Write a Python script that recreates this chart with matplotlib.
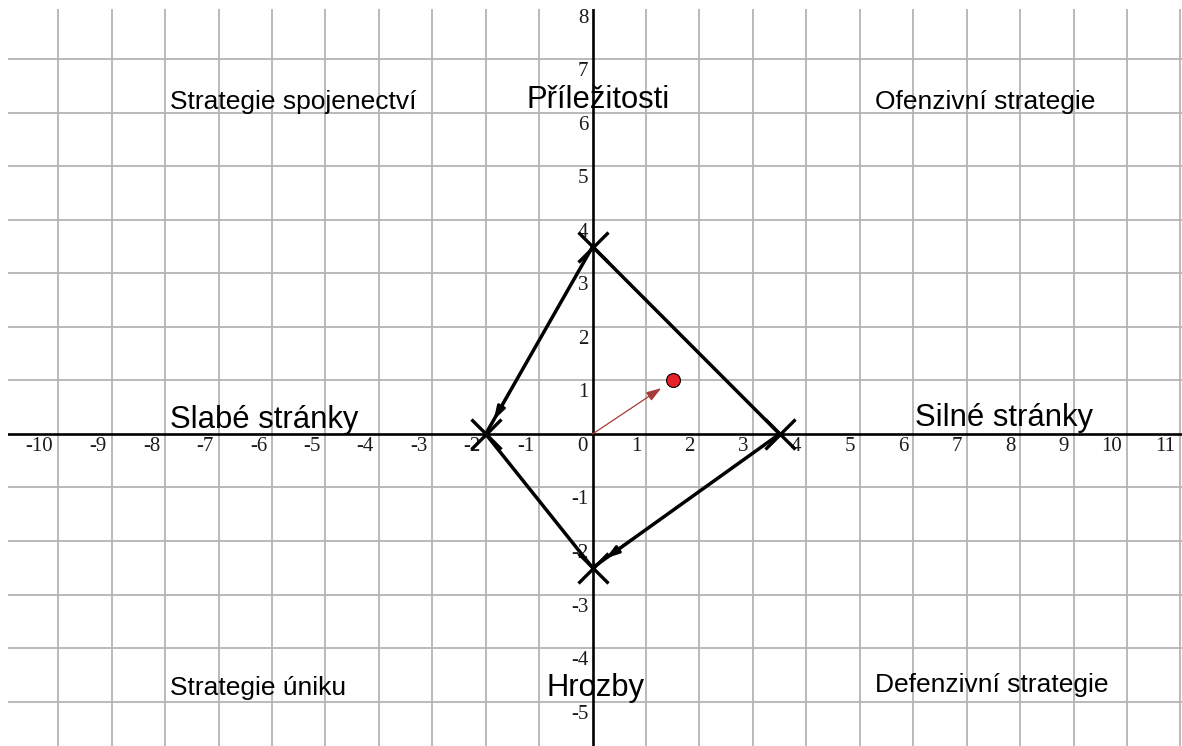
import numpy as np
import matplotlib.pyplot as plt

# Data
x_ticks = list(range(-10, 12))
y_ticks = [v for v in range(-5, 9) if v != 0]

vertex_x = [0, 3.5, 0, -2]
vertex_y = [3.5, 0, -2.5, 0]

point_x = [1.5]
point_y = [1.0]

quadrant_labels = ["Strategie spojenectví", "Ofenzivní strategie",
                   "Strategie úniku", "Defenzivní strategie"]
axis_labels = ["Příležitosti", "Slabé stránky", "Silné stránky", "Hrozby"]

W, H = 1182, 746
fig = plt.figure(figsize=(W / 100, H / 100), dpi=100)
ax = fig.add_axes([8 / W, 0, (W - 8) / W, 737 / H])
ax.set_xlim(-10.94, 11.03)
ax.set_ylim(-5.83, 7.94)
ax.axis("off")

# grid
for v in x_ticks:
    if v != 0:
        ax.axvline(v, color="#b4b4b4", lw=1.3, zorder=1)
for v in range(-5, 8):
    if v != 0:
        ax.axhline(v, color="#b4b4b4", lw=1.3, zorder=1)

# main axes
ax.axhline(0, color="black", lw=1.9, zorder=2)
ax.axvline(0, color="black", lw=1.9, zorder=2)

# tick labels (serif, below-left of each grid crossing)
tick_font = dict(family="Liberation Serif", fontsize=15, color="#1a1a1a",
                 ha="right", va="center", zorder=3, annotation_clip=False)
for v in x_ticks:
    ax.annotate(str(v), (v, 0), xytext=(-3.5, -9),
                textcoords="offset points", **tick_font)
for v in y_ticks:
    ax.annotate(str(v), (0, v), xytext=(-3, -9),
                textcoords="offset points", **tick_font)

# quadrilateral with X markers
px = vertex_x + [vertex_x[0]]
py = vertex_y + [vertex_y[0]]
ax.plot(px, py, color="black", lw=2.5, zorder=4, solid_capstyle="round")
ax.plot(vertex_x, vertex_y, linestyle="none", marker="x", color="black",
        markersize=21, markeredgewidth=2.4, zorder=5)

# arrowheads on two edges (top -> left, right -> bottom)
for s, e in [(0, 3), (1, 2)]:
    start = np.array([vertex_x[s], vertex_y[s]])
    end = np.array([vertex_x[e], vertex_y[e]])
    d = (end - start) / np.linalg.norm(end - start)
    tip = end - 0.3 * d
    ax.annotate("", xy=tip, xytext=tip - 0.6 * d,
                arrowprops=dict(arrowstyle="-|>,head_length=0.8,head_width=0.25",
                                color="black", lw=2.0, shrinkA=0, shrinkB=0),
                zorder=5)

# vector to the red point
ax.annotate("", xy=(point_x[0], point_y[0]), xytext=(0, 0),
            arrowprops=dict(arrowstyle="-|>,head_length=0.9,head_width=0.3",
                            color="#a83a3a", lw=0.9, shrinkA=0, shrinkB=10),
            zorder=5)
ax.plot(point_x, point_y, "o", color="#e8202a", markeredgecolor="black",
        markeredgewidth=0.8, markersize=10, zorder=6)

# quadrant texts
small = dict(family="Liberation Sans", fontsize=19, color="black",
             va="baseline", zorder=6)
big = dict(family="Liberation Sans", fontsize=22.3, color="black",
           va="baseline", zorder=6)
ax.text(-7.9, 6.08, quadrant_labels[0], ha="left", **small)
ax.text(5.29, 6.08, quadrant_labels[1], ha="left", **small)
ax.text(-7.9, -4.87, quadrant_labels[2], ha="left", **small)
ax.text(5.29, -4.83, quadrant_labels[3], ha="left", **small)

ax.text(0.11, 6.09, axis_labels[0], ha="center", **big)
ax.text(-7.9, 0.11, axis_labels[1], ha="left", **big)
ax.text(6.03, 0.14, axis_labels[2], ha="left", **big)
ax.text(0.05, -4.89, axis_labels[3], ha="center", **big)

fig.savefig("out.png", dpi=100)
